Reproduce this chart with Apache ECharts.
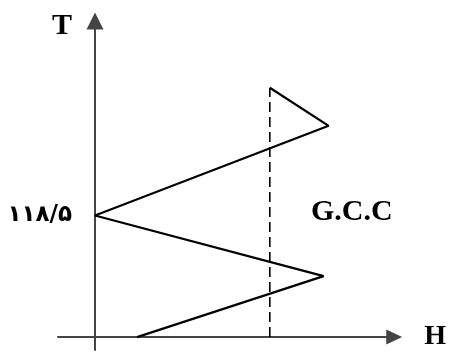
<!DOCTYPE html>
<html>
<head>
<meta charset="utf-8">
<script src="https://cdn.jsdelivr.net/npm/echarts@6/dist/echarts.min.js"></script>
<style>
  html, body { margin: 0; padding: 0; background: #fff; }
  #chart { width: 449px; height: 352px; }
</style>
</head>
<body>
<div id="chart"></div>
<script>
// grand composite curve (H across, T up)
const curveH = [52, 69.5, 0, 68, 12.5];
const curveT = [77.3, 65.5, 37.7, 18.9, 0];
const pinchIndex = 2;
const pinchLabel = '۱۱۸/۵';

// dashed vertical line
const dashH = [52, 52];
const dashT = [0, 77.3];

const curveName = 'G.C.C';
const xName = 'H';
const yName = 'T';

const chart = echarts.init(document.getElementById('chart'));

const curveData = curveH.map((h, i) => {
  const item = { value: [h, curveT[i]] };
  if (i === pinchIndex) {
    item.label = {
      show: true,
      position: 'left',
      distance: 23,
      formatter: pinchLabel,
      fontFamily: 'DejaVu Sans',
      fontWeight: 'bold',
      fontSize: 23,
      color: '#000'
    };
  }
  return item;
});

const serif = 'Liberation Serif';

chart.setOption({
  animation: false,
  backgroundColor: '#fff',
  grid: { left: 58, right: 53, top: 21, bottom: 2 },
  xAxis: {
    type: 'value', min: -11, max: 89,
    name: xName, nameLocation: 'end', nameGap: 30,
    nameTextStyle: { fontFamily: serif, fontWeight: 'bold', fontSize: 28, color: '#000' },
    axisLine: { onZero: true, symbol: ['none', 'triangle'], symbolSize: [15, 16],
      lineStyle: { color: '#444', width: 2 } },
    axisTick: { show: false }, axisLabel: { show: false }, splitLine: { show: false }
  },
  yAxis: {
    type: 'value', min: -4, max: 98,
    name: yName, nameLocation: 'end', nameGap: -5,
    nameTextStyle: { fontFamily: serif, fontWeight: 'bold', fontSize: 30, color: '#000',
      align: 'right', verticalAlign: 'middle', padding: [0, 23, 0, 0] },
    axisLine: { onZero: true, symbol: ['none', 'triangle'], symbolSize: [17, 17],
      lineStyle: { color: '#444', width: 2 } },
    axisTick: { show: false }, axisLabel: { show: false }, splitLine: { show: false }
  },
  graphic: [{
    type: 'text', left: 311, top: 197,
    style: { text: curveName, font: 'bold 30px "Liberation Serif"', fill: '#000' }
  }],
  series: [
    {
      type: 'line', data: curveData, symbol: 'circle', symbolSize: 0, showAllSymbol: true,
      lineStyle: { color: '#000', width: 2.2 }, itemStyle: { color: '#000' }
    },
    {
      type: 'line', data: dashH.map((h, i) => [h, dashT[i]]), symbol: 'none',
      lineStyle: { color: '#000', width: 1.6, type: [10, 5] }
    }
  ]
});
</script>
</body>
</html>
